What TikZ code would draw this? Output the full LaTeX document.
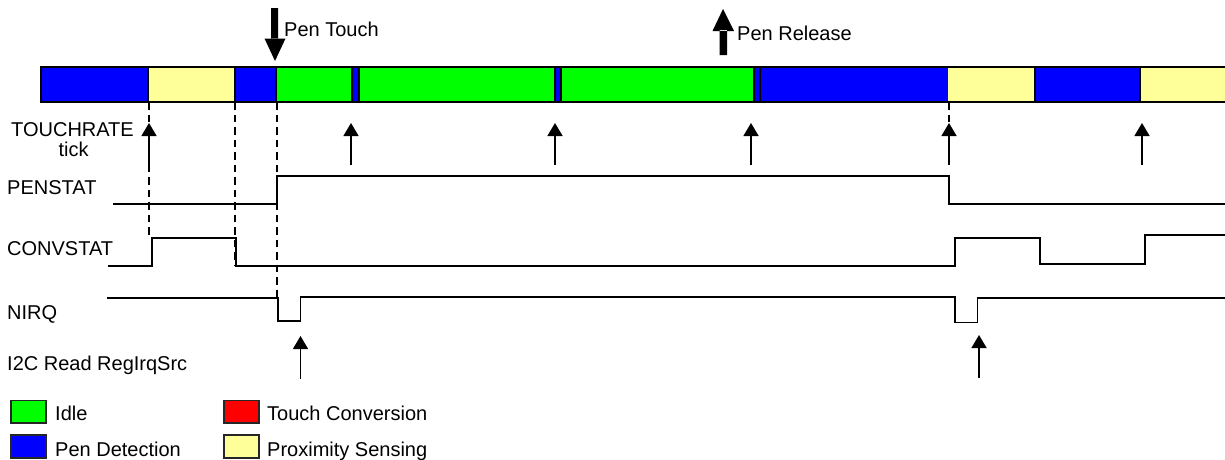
\documentclass[tikz,border=0pt]{standalone}
\usepackage{fontspec}
\setmainfont{Liberation Sans}
\usetikzlibrary{arrows.meta}
\definecolor{idle}{HTML}{00FF00}
\definecolor{pend}{HTML}{0000FF}
\definecolor{prox}{HTML}{FFFF99}
\definecolor{conv}{HTML}{FF0000}
\begin{document}
\begin{tikzpicture}[x=1pt,y=-1pt,
  seg/.style={draw=black,line width=1.5pt},
  sig/.style={line width=1.6pt,line join=miter},
  dsh/.style={line width=1.6pt,dash pattern=on 7.5pt off 5pt},
  tickarrow/.style={line width=1.5pt,-{Triangle[width=15pt,length=13pt]}},
  lbl/.style={font=\fontsize{20}{22}\selectfont,inner sep=0pt,anchor=base west},
  legbox/.style={draw=black!85,line width=1.8pt}]
\useasboundingbox (0,0) rectangle (1225,459);

% state bar
\fill[pend] (41,67) rectangle (148,102);
\fill[prox] (148,67) rectangle (235,102);
\fill[pend] (235,67) rectangle (276,102);
\fill[idle] (276,67) rectangle (352,102);
\fill[pend] (352,67) rectangle (359,102);
\fill[idle] (359,67) rectangle (555,102);
\fill[pend] (555,67) rectangle (561,102);
\fill[idle] (561,67) rectangle (754,102);
\fill[pend] (754,67) rectangle (948,102);
\fill[prox] (948,67) rectangle (1035,102);
\fill[pend] (1035,67) rectangle (1140,102);
\fill[prox] (1140,67) rectangle (1226,102);
\draw[seg] (1226,67) -- (41,67) -- (41,102) -- (1226,102);
\foreach \x in {148,235,276,352,359,555,561,754,760,1035,1140}
  \draw[seg] (\x,67) -- (\x,102);

% pen touch / release arrows
\fill (271,8) rectangle (278,39) (264.5,38.5) -- (285.5,38.5) -- (275,61) -- cycle;
\node[lbl] (pt) at (284,36) {Pen Touch};
\fill (719.5,55) rectangle (727,30) (712.5,31) -- (734,31) -- (723,9) -- cycle;
\node[lbl] (pr) at (737,40) {Pen Release};

% tick label
\node[lbl] (tr) at (11,136) {TOUCHRATE};
\node[font=\fontsize{20}{22}\selectfont,inner sep=0pt,anchor=base] (tk) at (73.5,156.5) {tick};

% tick arrows
\foreach \x/\n in {149/a,351/b,555/c,751/d,949/e,1142/f}{
  \coordinate (t\n b) at (\x,165);
  \coordinate (t\n t) at (\x,123);
  \draw[tickarrow] (t\n b) -- (t\n t);
}

% dashed guide lines
\coordinate (d1a) at (149,102); \coordinate (d1b) at (149,237);
\coordinate (d2a) at (235,102); \coordinate (d2b) at (235,266);
\coordinate (d3a) at (277,102); \coordinate (d3b) at (277,297);
\coordinate (d4a) at (949,102); \coordinate (d4b) at (949,125);
\draw[dsh] (d1a) -- (d1b);
\draw[dsh] (d2a) -- (d2b);
\draw[dsh] (d3a) -- (d3b);
\draw[dsh] (d4a) -- (d4b);

% signals
\node[lbl] (ps) at (7,194) {PENSTAT};
\draw[sig] (113,204) -- (277,204) -- (277,176) -- (949,176) -- (949,204) -- (1226,204);

\node[lbl] (cs) at (7,255) {CONVSTAT};
\draw[sig] (108,266) -- (152,266) -- (152,238) -- (236,238) -- (236,266) -- (955,266)
  -- (955,238) -- (1040,238) -- (1040,264) -- (1145,264) -- (1145,235) -- (1226,235);

\node[lbl] (nq) at (7,319.5) {NIRQ};
\draw[sig] (107,298) -- (278,298) -- (278,321) -- (300.5,321) -- (300.5,297) -- (955,297)
  -- (955,322.5) -- (977.5,322.5) -- (977.5,298) -- (1226,298);

\node[lbl] (i2) at (7,370.5) {I2C Read RegIrqSrc};
\coordinate (i1b) at (300.5,379); \coordinate (i1t) at (300.5,336);
\coordinate (i2b) at (979,378); \coordinate (i2t) at (979,335);
\draw[tickarrow] (i1b) -- (i1t);
\draw[tickarrow] (i2b) -- (i2t);

% legend
\draw[legbox,fill=idle] (11,400.5) rectangle (46,423);
\node[lbl] (l1) at (55,420) {Idle};
\draw[legbox,fill=pend] (11,435) rectangle (46,458);
\node[lbl] (l2) at (55,456) {Pen Detection};
\draw[legbox,fill=conv] (224,400.5) rectangle (259,423);
\node[lbl] (l3) at (267,420) {Touch Conversion};
\draw[legbox,fill=prox] (224,435) rectangle (259,458);
\node[lbl] (l4) at (267,456) {Proximity Sensing};
\end{tikzpicture}
\end{document}
